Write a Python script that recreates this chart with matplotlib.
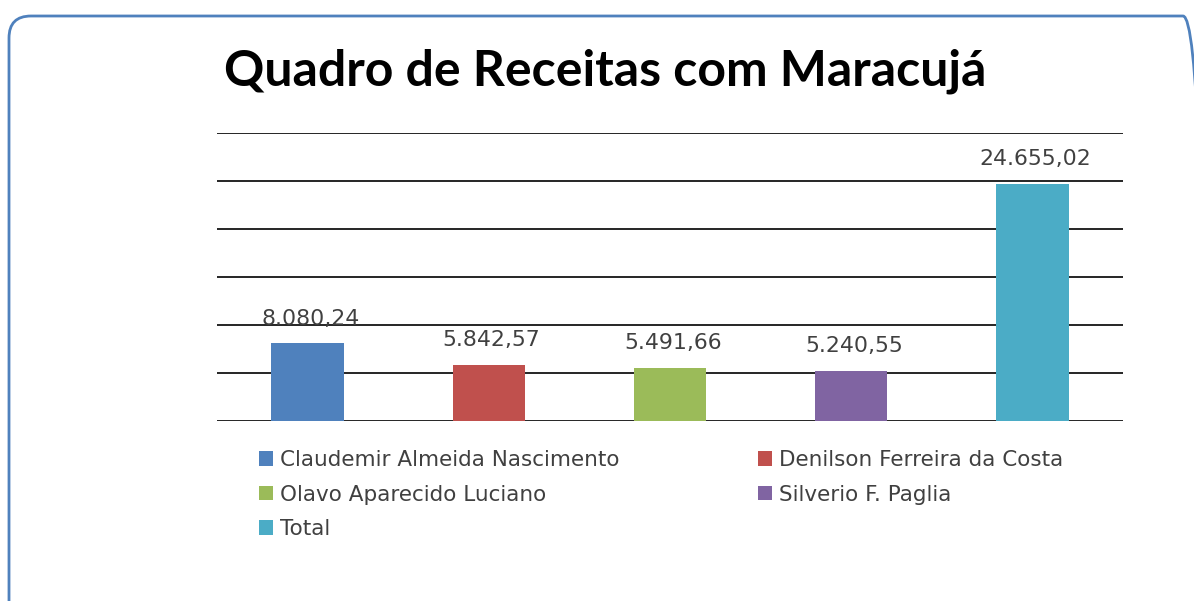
import matplotlib
matplotlib.use("Agg")
import matplotlib.pyplot as plt
from matplotlib.patches import FancyBboxPatch

# data
nomes = ["Claudemir Almeida Nascimento", "Denilson Ferreira da Costa",
         "Olavo Aparecido Luciano", "Silverio F. Paglia", "Total"]
valores = [8080.24, 5842.57, 5491.66, 5240.55, 24655.02]
cores = ["#4F81BD", "#C0504D", "#9BBB59", "#8064A2", "#4BACC6"]
titulo = "Quadro de Receitas com Maracujá"


def fmt_br(v):
    s = f"{v:,.2f}"
    return s.replace(",", "X").replace(".", ",").replace("X", ".")


plt.rcParams['font.family'] = ['DejaVu Sans']

W, H = 1194, 601
fig = plt.figure(figsize=(W / 100, H / 100), dpi=100)

# rounded frame (in inches), bottom and right corner cut by the figure edge
borda = FancyBboxPatch((0.09, -0.5), 12.05 - 0.09, 0.5 + (H - 16) / 100,
                       boxstyle="round,pad=0,rounding_size=0.22",
                       transform=fig.dpi_scale_trans, fill=False,
                       edgecolor="#4F81BD", linewidth=2.0)
fig.patches.append(borda)

ax = fig.add_axes([217 / W, 180 / H, 906 / W, 288.5 / H])
x = range(len(valores))
bars = ax.bar(x, valores, width=0.4, color=cores, zorder=3)

ax.set_xlim(-0.5, len(valores) - 0.5)
ax.set_ylim(0, 30000)
ax.set_yticks(range(0, 30001, 5000))
ax.yaxis.grid(True, color="black", linewidth=1.2, zorder=0)
ax.tick_params(left=False, bottom=False, labelleft=False, labelbottom=False)
for s in ax.spines.values():
    s.set_visible(False)

for b, v in zip(bars, valores):
    ax.annotate(fmt_br(v), (b.get_x() + b.get_width() / 2, v),
                xytext=(2, 13.5), textcoords="offset points",
                ha="center", va="baseline", fontsize=15.8, color="#404040")

fig.text(605.5 / W, (H - 85) / H, titulo, ha="center", va="baseline",
         fontsize=36, fontweight="bold", color="black", family="Lato")

ordem = [0, 2, 4, 1, 3]
leg = fig.legend([bars[i] for i in ordem], [nomes[i] for i in ordem],
                 ncol=2, loc="upper left",
                 bbox_to_anchor=(259 / W, (H - 450) / H),
                 frameon=False, fontsize=15.5, labelcolor="#404040",
                 handlelength=0.66, handleheight=0.66, handletextpad=0.33,
                 columnspacing=6.4, labelspacing=0.68, borderpad=0,
                 borderaxespad=0)

fig.savefig("out.png", dpi=100)
